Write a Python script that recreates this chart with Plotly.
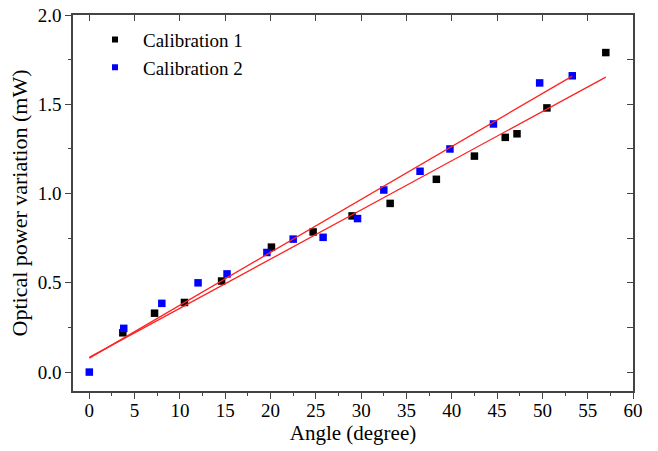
import plotly.graph_objects as go

angle1 = [3.7, 7.2, 10.5, 14.6, 20.1, 24.7, 29.0, 33.2, 38.3, 42.5, 45.9, 47.2, 50.5, 57.0]
power1 = [0.22, 0.33, 0.39, 0.51, 0.70, 0.785, 0.875, 0.945, 1.08, 1.21, 1.315, 1.335, 1.48, 1.79]

angle2 = [0.0, 3.8, 8.0, 12.0, 15.2, 19.6, 22.5, 25.8, 29.6, 32.5, 36.5, 39.8, 44.6, 49.7, 53.3]
power2 = [0.0, 0.245, 0.385, 0.50, 0.55, 0.67, 0.745, 0.755, 0.86, 1.02, 1.125, 1.25, 1.39, 1.62, 1.66]

# linear fits: (x_start, x_end, intercept, slope)
fit1 = (0.0, 57.0, 0.082, 0.02755)
fit2 = (0.0, 53.3, 0.078, 0.02965)

font_family = "Liberation Serif, Times New Roman, Times, serif"
axis_color = "#444444"

fig = go.Figure()
fig.add_trace(go.Scatter(x=angle1, y=power1, mode="markers", name="Calibration 1", showlegend=False,
                         marker=dict(symbol="square", size=7.5, color="black")))
fig.add_trace(go.Scatter(x=angle2, y=power2, mode="markers", name="Calibration 2", showlegend=False,
                         marker=dict(symbol="square", size=7.5, color="#0000ff")))
for f in (fit1, fit2):
    xs = [f[0], f[1]]
    ys = [f[2] + f[3] * v for v in xs]
    fig.add_trace(go.Scatter(x=xs, y=ys, mode="lines", showlegend=False,
                             line=dict(color="#ff2020", width=1.3)))
# legend entries (smaller symbols, as in the reference)
fig.add_trace(go.Scatter(x=[None], y=[None], mode="markers", name="Calibration 1",
                         marker=dict(symbol="square", size=6, color="black")))
fig.add_trace(go.Scatter(x=[None], y=[None], mode="markers", name="Calibration 2",
                         marker=dict(symbol="square", size=6, color="#0000ff")))
# invisible trace for mirrored axes
fig.add_trace(go.Scatter(x=[None], y=[None], xaxis="x2", yaxis="y2", showlegend=False,
                         hoverinfo="skip"))

xr = [-1.8, 60.0005]
yr = [-0.106, 2.0005]
common = dict(showgrid=False, zeroline=False, showline=True, linecolor=axis_color,
              linewidth=1.5, tickcolor=axis_color, tickwidth=1.2, automargin=False)
fig.update_layout(
    width=658, height=451,
    margin=dict(l=73, r=25, t=15, b=60, autoexpand=False),
    plot_bgcolor="white", paper_bgcolor="white",
    font=dict(family=font_family, size=19, color="black"),
    xaxis=dict(range=xr, tickmode="linear", tick0=0, dtick=5, ticks="outside", ticklen=6,
               ticklabelstandoff=-5, ticklabeloverflow="allow",
               minor=dict(tick0=0, dtick=2.5, ticks="outside", ticklen=3, tickcolor=axis_color),
               title=dict(text="Angle (degree)", font=dict(size=21), standoff=4),
               tickfont=dict(size=19), **common),
    yaxis=dict(range=yr, tickmode="linear", tick0=0, dtick=0.5, tickformat=".1f",
               ticks="outside", ticklen=6, ticklabeloverflow="allow",
               minor=dict(tick0=0, dtick=0.25, ticks="outside", ticklen=3, tickcolor=axis_color),
               title=dict(text="Optical power variation (mW)", font=dict(size=22), standoff=4),
               tickfont=dict(size=19), **common),
    xaxis2=dict(range=xr, overlaying="x", side="top", tickmode="linear", tick0=0, dtick=5,
                ticks="inside", ticklen=6, showticklabels=False, **common),
    yaxis2=dict(range=yr, overlaying="y", side="right", tickmode="linear", tick0=0, dtick=0.25,
                ticks="inside", ticklen=6, showticklabels=False, **common),
    legend=dict(x=0.025, y=0.985, xanchor="left", yanchor="top", bgcolor="rgba(0,0,0,0)",
                font=dict(size=19), tracegroupgap=0, itemsizing="trace", itemwidth=46),
    showlegend=True,
)
fig.write_html("out.html", config={"displayModeBar": False},
               post_script="document.body.style.margin='0px';")
